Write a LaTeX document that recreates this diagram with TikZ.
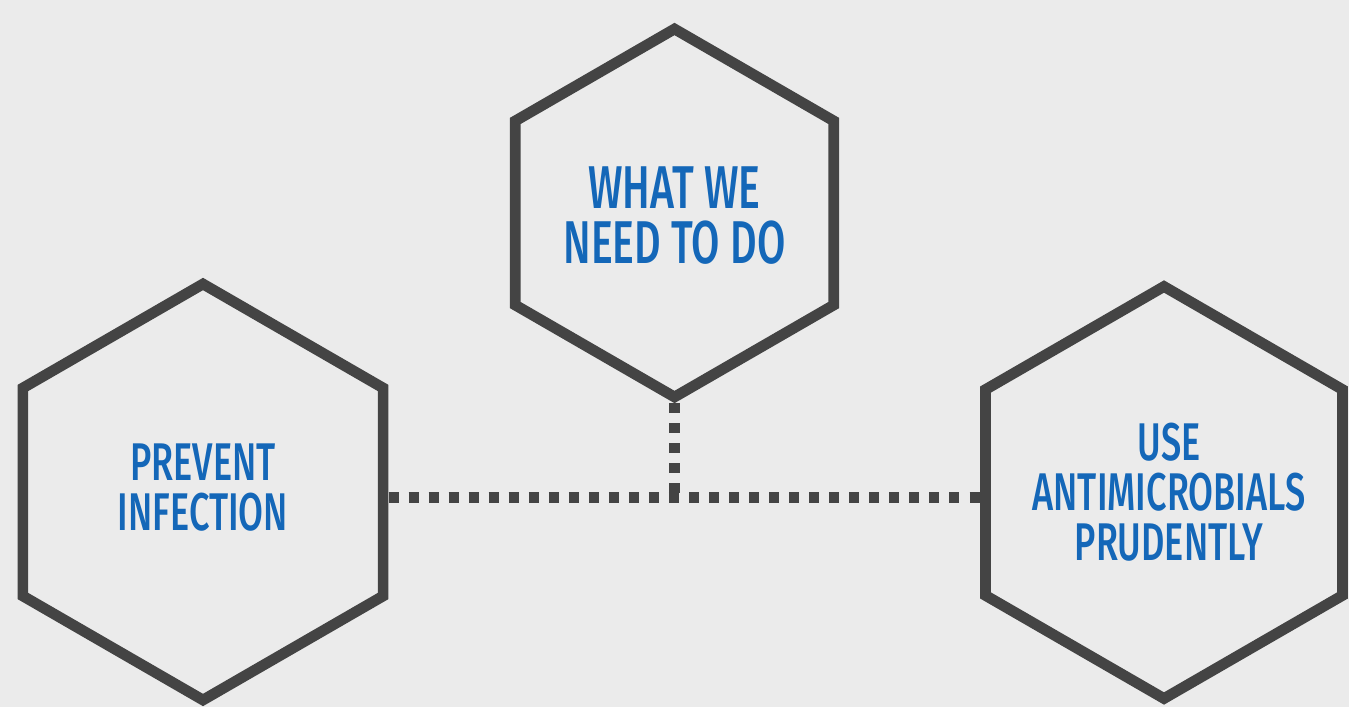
\documentclass[tikz,border=0pt]{standalone}
\usepackage{fontspec}
\setmainfont{Fira Sans}[UprightFont=* Medium, FakeStretch=0.68]
\usetikzlibrary{shapes.geometric}
\definecolor{bgGray}{HTML}{EBEBEB}
\definecolor{hexGray}{HTML}{444444}
\definecolor{textBlue}{HTML}{1467B8}

\begin{document}
\begin{tikzpicture}[
  hexa/.style={regular polygon, regular polygon sides=6, shape border rotate=30,
    draw=hexGray, line width=6.1pt, inner sep=0pt},
  hextext/.style={align=center, text=textBlue, inner sep=0pt},
  dots/.style={draw=hexGray, line width=5.7pt, dash pattern=on 5.7pt off 5.7pt}
]
\fill[bgGray] (0,0) rectangle (26.98,14.14);
\useasboundingbox (0,0) rectangle (26.98,14.14);

\node[hexa, minimum size=7.36cm] (need) at (13.49, 9.88) {};
\node[hexa, minimum size=8.32cm] (prevent) at (4.06, 4.30) {};
\node[hexa, minimum size=8.24cm] (use) at (23.28, 4.29) {};

\node[hextext, font=\fontsize{34.4}{31.3}\selectfont] (needtext) at ([yshift=-0.05cm]need) {WHAT WE\\NEED TO DO};
\node[hextext, font=\fontsize{30.2}{28.45}\selectfont] (preventtext) at ([yshift=0.08cm]prevent) {PREVENT\\INFECTION};
\node[hextext, font=\fontsize{30.2}{28.45}\selectfont] (usetext) at ([xshift=0.1cm]use) {USE\\ANTIMICROBIALS\\PRUDENTLY};

\coordinate (join) at ([yshift=-0.11cm]prevent.east -| need.south);
\draw[dots] ([yshift=-0.11cm]prevent.east) -- ([yshift=-0.11cm]prevent.east -| use.west);
\draw[dots] (need.south) -- (join);
\end{tikzpicture}
\end{document}
